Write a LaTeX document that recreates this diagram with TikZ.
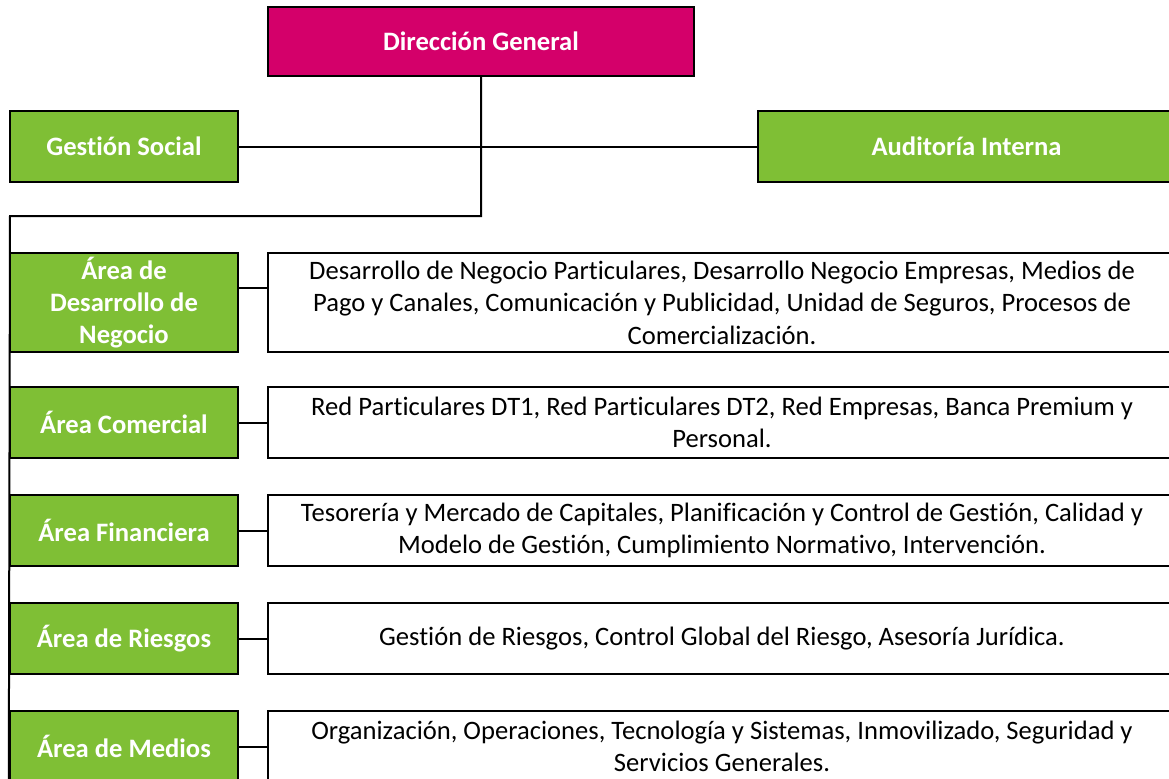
\documentclass[tikz,border=0pt]{standalone}
\usepackage{fontspec}
\setmainfont{Carlito}[Ligatures=NoCommon]
\definecolor{dirmagenta}{RGB}{212,0,106}
\definecolor{areagreen}{RGB}{127,191,53}
\tikzset{
  greenbox/.style={draw=black, line width=1.2pt, fill=areagreen, text=white,
    font=\fontsize{13.3}{16.2}\selectfont\bfseries, align=center,
    minimum width=114pt, minimum height=35.5pt, inner sep=0pt},
  textbox/.style={draw=black, line width=1.2pt, fill=white,
    font=\fontsize{13.3}{16.2}\selectfont, align=center,
    minimum width=454pt, minimum height=35.5pt, inner sep=0pt},
  link/.style={line width=1pt}
}
\begin{document}
\begin{tikzpicture}[x=0.5pt, y=-0.5pt]
\useasboundingbox (0,0) rectangle (1169,778);
\clip (0,0) rectangle (1169,778);
% top level
\node[greenbox, fill=dirmagenta, minimum width=213pt, minimum height=34.5pt] (dg) at (481,41.5) {Direcci\'on General};
\node[greenbox] (gs) at (124,146.5) {Gesti\'on Social};
\node[greenbox, minimum width=208.5pt] (ai) at (966.5,146.5) {Auditor\'ia Interna};
\coordinate (turn) at (10,216);
% areas
\node[greenbox, minimum height=49.5pt] (ades) at (124,302.5) {\'Area de\\Desarrollo de\\Negocio};
\node[textbox, minimum height=49.5pt] (ddes) at (722,302.5) {Desarrollo de Negocio Particulares, Desarrollo Negocio Empresas, Medios de\\Pago y Canales, Comunicaci\'on y Publicidad, Unidad de Seguros, Procesos de\\Comercializaci\'on.};
\node[greenbox] (acom) at (124,422.5) {\'Area Comercial};
\node[textbox] (dcom) at (722,422.5) {Red Particulares DT1, Red Particulares DT2, Red Empresas, Banca Premium y\\Personal.};
\node[greenbox] (afin) at (124,530.5) {\'Area Financiera};
\node[textbox] (dfin) at (722,530.5) {Tesorer\'ia y Mercado de Capitales, Planificaci\'on y Control de Gesti\'on, Calidad y\\Modelo de Gesti\'on, Cumplimiento Normativo, Intervenci\'on.};
\node[greenbox] (arie) at (124,638.5) {\'Area de Riesgos};
\node[textbox] (drie) at (722,638.5) {Gesti\'on de Riesgos, Control Global del Riesgo, Asesor\'ia Jur\'idica.};
\node[greenbox] (amed) at (124,746.5) {\'Area de Medios};
\node[textbox] (dmed) at (722,746.5) {Organizaci\'on, Operaciones, Tecnolog\'ia y Sistemas, Inmovilizado, Seguridad y\\Servicios Generales.};
% lines
\draw[link] (gs.east) -- (ai.west);
\draw[link] (dg.south) |- (turn) -- (amed.south west);
\draw[link] (ades.east |- 0,288) -- (ddes.west |- 0,288);
\draw[link] (acom.east) -- (dcom.west);
\draw[link] (afin.east) -- (dfin.west);
\draw[link] (arie.east) -- (drie.west);
\draw[link] (amed.east) -- (dmed.west);
\end{tikzpicture}
\end{document}
